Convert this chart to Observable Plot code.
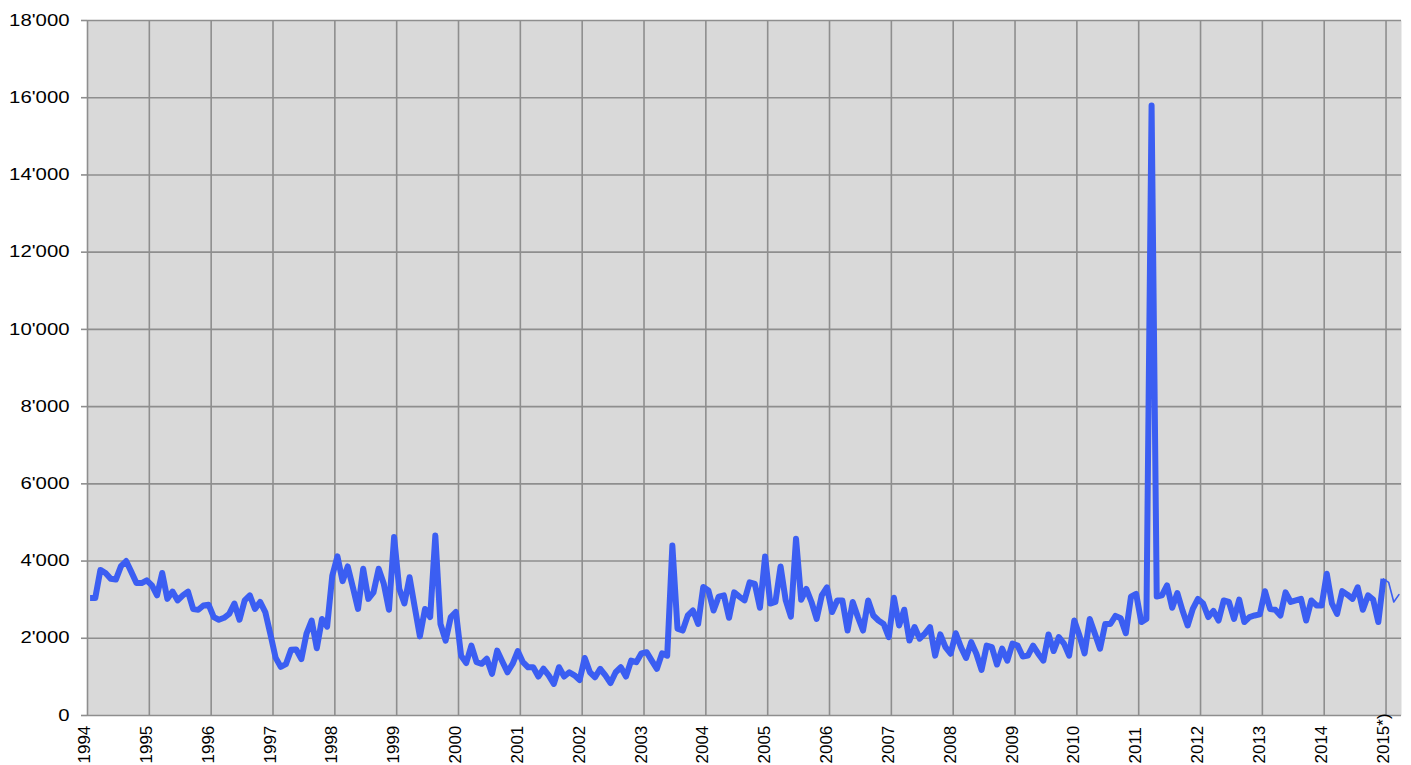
<!DOCTYPE html>
<html>
<head>
<meta charset="utf-8">
<script src="https://cdn.jsdelivr.net/npm/d3@7"></script>
<script src="https://cdn.jsdelivr.net/npm/@observablehq/plot@0.6"></script>
<style>
  html, body { margin: 0; padding: 0; background: #ffffff; }
  #chart { width: 1411px; height: 765px; }
</style>
</head>
<body>
<div id="chart"></div>
<script>
// Monthly values, Jan 1994 .. Dec 2014
const values = [
  // 1994
  3040, 3040, 3770, 3690, 3540, 3520, 3870, 4000, 3720, 3430, 3430, 3500,
  // 1995
  3370, 3110, 3690, 3020, 3210, 2980, 3110, 3210, 2760, 2740, 2850, 2870,
  // 1996
  2550, 2480, 2530, 2630, 2900, 2480, 2980, 3110, 2760, 2940, 2680, 2100,
  // 1997
  1500, 1260, 1330, 1700, 1710, 1460, 2120, 2460, 1740, 2500, 2300, 3620,
  // 1998
  4120, 3480, 3860, 3320, 2760, 3800, 3020, 3190, 3800, 3410, 2740, 4620,
  // 1999
  3280, 2900, 3580, 2810, 2050, 2760, 2550, 4660, 2370, 1940, 2550, 2680,
  // 2000
  1550, 1360, 1810, 1380, 1340, 1470, 1080, 1680, 1400, 1120, 1340, 1670,
  // 2001
  1380, 1250, 1250, 1010, 1210, 1040, 820, 1250, 1010, 1120, 1040, 920,
  // 2002
  1490, 1120, 990, 1210, 1040, 840, 1120, 1250, 1010, 1420, 1380, 1610,
  // 2003
  1640, 1420, 1210, 1610, 1550, 4400, 2250, 2200, 2590, 2720, 2370, 3330,
  // 2004
  3240, 2720, 3080, 3110, 2530, 3190, 3080, 2980, 3450, 3410, 2790, 4120,
  // 2005
  2900, 2940, 3860, 2980, 2560, 4580, 3000, 3280, 2940, 2500, 3110, 3320,
  // 2006
  2680, 2980, 2980, 2200, 2940, 2550, 2200, 2980, 2590, 2460, 2370, 2030,
  // 2007
  3050, 2330, 2740, 1940, 2290, 1990, 2120, 2290, 1550, 2100, 1770, 1600,
  // 2008
  2130, 1770, 1490, 1900, 1600, 1180, 1810, 1770, 1320, 1730, 1420, 1860,
  // 2009
  1810, 1530, 1550, 1810, 1600, 1420, 2100, 1670, 2030, 1860, 1550, 2460,
  // 2010
  2070, 1610, 2500, 2120, 1730, 2370, 2370, 2580, 2520, 2130, 3080, 3150,
  // 2011
  2420, 2500, 15800, 3080, 3110, 3370, 2790, 3170, 2720, 2330, 2760, 3020,
  // 2012
  2900, 2550, 2710, 2460, 2980, 2940, 2500, 3000, 2420, 2550, 2590, 2620,
  // 2013
  3220, 2760, 2740, 2590, 3190, 2940, 2980, 3020, 2460, 2980, 2850, 2850,
  // 2014
  3670, 2900, 2630, 3220, 3130, 3020, 3320, 2740, 3110, 3000, 2420, 3540
];
// Provisional months Jan..Mar 2015
const provisional2015 = [3450, 2940, 3130];

const yearLabels = ["1994","1995","1996","1997","1998","1999","2000","2001","2002","2003","2004",
  "2005","2006","2007","2008","2009","2010","2011","2012","2013","2014","2015*)"];
const yTickValues = [0, 2000, 4000, 6000, 8000, 10000, 12000, 14000, 16000, 18000];

// Build tables (month index; point sits mid-month)
const mainRows = values.map((v, i) => ({m: i + 0.5, v}));
const lastIdx = values.length - 1;
const provRows = [{m: lastIdx + 0.5, v: values[lastIdx]}]
  .concat(provisional2015.map((v, i) => ({m: values.length + i + 0.5, v})));
const totalMonths = values.length + provisional2015.length + 1; // axis through start of Apr 2015
const yearTicks = yearLabels.map((d, i) => i * 12);
const labelRows = yearLabels.map((d, i) => ({m: i * 12 + 0.5, label: d}));

const fmt = v => d3.format(",")(v).replace(/,/g, "'");
const gridColor = "#8e8e8e";
const lineColor = "#3b5ef2";

const chart = Plot.plot({
  width: 1411,
  height: 765,
  marginLeft: 87,
  marginRight: 10,
  marginTop: 20,
  marginBottom: 50,
  style: {fontFamily: "'Liberation Sans', Arial, sans-serif", fontSize: "16px", background: "#ffffff", color: "#000"},
  x: {domain: [0, totalMonths - 1], axis: null},
  y: {domain: [0, 18000], axis: null},
  marks: [
    Plot.frame({fill: "#d9d9d9", stroke: null}),
    Plot.gridY(yTickValues, {stroke: gridColor, strokeOpacity: 1, strokeWidth: 1.6}),
    Plot.gridX(yearTicks, {stroke: gridColor, strokeOpacity: 1, strokeWidth: 1.6}),
    Plot.axisY(yTickValues, {label: null, tickSize: 6, tickPadding: 12, tickFormat: fmt, stroke: gridColor, fill: "#000", fontSize: 16, strokeWidth: 1.6}),
    Plot.line(mainRows, {x: "m", y: "v", stroke: lineColor, strokeWidth: 6, strokeLinejoin: "round", strokeLinecap: "butt"}),
    Plot.line(provRows, {x: "m", y: "v", stroke: lineColor, strokeWidth: 1.6, strokeLinejoin: "round"}),
    Plot.text(labelRows, {x: "m", text: "label", frameAnchor: "bottom", rotate: -90, textAnchor: "start", dy: 48, fontSize: 17, fill: "#000"})
  ]
});

document.getElementById("chart").appendChild(chart);

// The reference's y tick labels are horizontally wider than the plain font
d3.select(chart).selectAll('g[aria-label="y-axis tick label"] text').each(function() {
  const w = this.getComputedTextLength();
  if (w > 0) {
    this.setAttribute("textLength", (w * 1.27).toFixed(1));
    this.setAttribute("lengthAdjust", "spacingAndGlyphs");
  }
});
</script>
</body>
</html>
